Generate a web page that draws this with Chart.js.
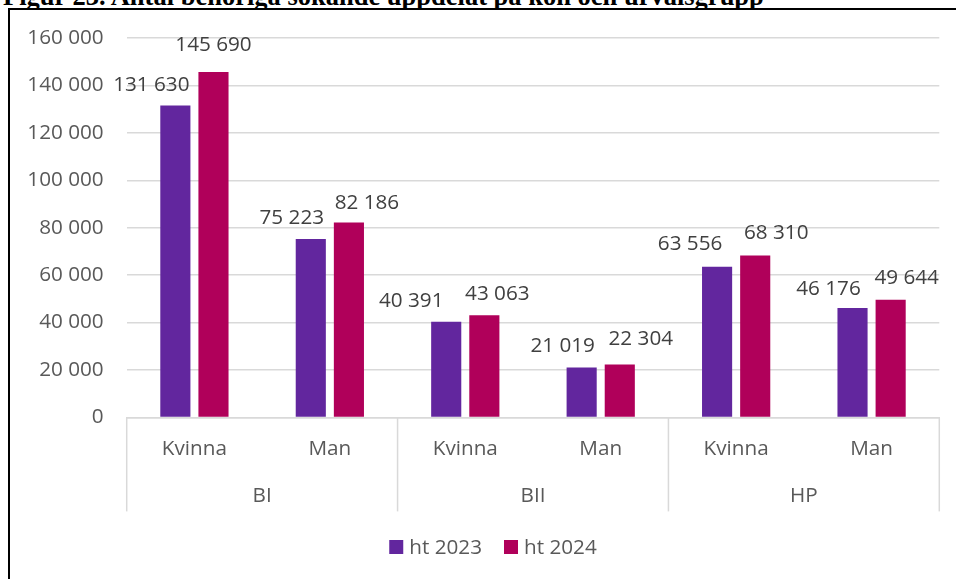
<!DOCTYPE html>
<html lang="sv">
<head>
<meta charset="UTF-8">
<title>Figur 23</title>
<script src="https://cdn.jsdelivr.net/npm/chart.js@4.4.1/dist/chart.umd.min.js"></script>
<style>
    body {
        margin: 0;
        background: #fff;
        overflow: hidden;
    }

    #title {
        position: absolute;
        left: 3px;
        top: -17px;
        font: bold 26.5px "Liberation Serif", serif;
        line-height: 26px;
        white-space: nowrap;
        color: #000;
    }

    #frame {
        position: absolute;
        left: 8px;
        top: 8px;
        width: 1000px;
        height: 700px;
        border-left: 2px solid #000;
        border-top: 2px solid #000;
        background: #fff;
    }

    #wrap {
        position: absolute;
        left: 0;
        top: 0;
        width: 956px;
        height: 579px;
    }
</style>
</head>
<body>
<div id="title">Figur 23. Antal behöriga sökande uppdelat på kön och urvalsgrupp</div>
<div id="frame"></div>
<div id="wrap"><canvas id="chart"></canvas></div>

<script>
    // data
    const groups = ['BI', 'BII', 'HP'];
    const categories = ['Kvinna', 'Man', 'Kvinna', 'Man', 'Kvinna', 'Man'];
    const seriesNames = ['ht 2023', 'ht 2024'];
    const ht2023 = [131630, 75223, 40391, 21019, 63556, 46176];
    const ht2024 = [145690, 82186, 43063, 22304, 68310, 49644];
    const yMin = 0, yMax = 160000, yStep = 20000;

    // label nudges (dx, dy above bar top), like the hand placed labels in Excel
    const nudge2023 = [[-24, 20], [-19, 21], [-35, 21], [-19, 21], [-27, 23], [-24, 19]];
    const nudge2024 = [[0, 27], [18, 20], [13, 21], [21, 25], [21, 22], [16, 22]];

    const purple = '#62269e';
    const pink = '#b0005a';
    const axisText = '#595959';
    const labelText = '#404040';
    const gridColor = '#d9d9d9';
    const font = { family: '"Open Sans", sans-serif', size: 20.7 };

    function fmt(v) {
        return String(v).replace(/\B(?=(\d{3})+(?!\d))/g, ' ');
    }

    // value labels above bars
    const valueLabels = {
        id: 'valueLabels',
        afterDatasetsDraw(chart) {
            const ctx = chart.ctx;
            ctx.save();
            ctx.font = font.size + 'px ' + font.family;
            ctx.fillStyle = labelText;
            ctx.textAlign = 'center';
            ctx.textBaseline = 'middle';
            chart.data.datasets.forEach((ds, di) => {
                const nudges = di === 0 ? nudge2023 : nudge2024;
                chart.getDatasetMeta(di).data.forEach((bar, i) => {
                    ctx.fillText(fmt(ds.data[i]), bar.x + nudges[i][0], bar.y - nudges[i][1]);
                });
            });
            ctx.restore();
        }
    };

    // group separators below the axis + legend
    const groupLines = {
        id: 'groupLines',
        afterDraw(chart) {
            const ctx = chart.ctx;
            const x = chart.scales.x;
            const top = chart.chartArea.bottom;
            const bottom = top + 94;
            ctx.save();
            ctx.strokeStyle = gridColor;
            ctx.lineWidth = 1.5;
            for (let i = 0; i <= categories.length; i += 2) {
                const px = x.getPixelForValue(i - 0.5);
                ctx.beginPath();
                ctx.moveTo(px, top);
                ctx.lineTo(px, bottom);
                ctx.stroke();
            }

            // legend
            ctx.font = font.size + 'px ' + font.family;
            ctx.textBaseline = 'middle';
            ctx.textAlign = 'left';
            const box = 14, gapBox = 6, gapItem = 22;
            const widths = seriesNames.map(n => box + gapBox + ctx.measureText(n).width);
            const total = widths[0] + gapItem + widths[1];
            let lx = 493 - total / 2;
            const ly = 547;
            chart.data.datasets.forEach((ds, di) => {
                ctx.fillStyle = ds.backgroundColor;
                ctx.fillRect(lx, ly - box / 2, box, box);
                ctx.fillStyle = axisText;
                ctx.fillText(ds.label, lx + box + gapBox, ly + 1);
                lx += widths[di] + gapItem;
            });
            ctx.restore();
        }
    };

    new Chart(document.getElementById('chart'), {
        type: 'bar',
        data: {
            labels: categories,
            datasets: [
                { label: seriesNames[0], data: ht2023, backgroundColor: purple },
                { label: seriesNames[1], data: ht2024, backgroundColor: pink }
            ]
        },
        options: {
            responsive: true,
            maintainAspectRatio: false,
            animation: false,
            events: [],
            categoryPercentage: 0.563,
            barPercentage: 0.79,
            layout: {
                padding: { top: 38.2, right: 16.7, bottom: 63.6, left: 0 }
            },
            plugins: {
                legend: { display: false },
                tooltip: { enabled: false }
            },
            scales: {
                x: {
                    offset: true,
                    grid: { display: false },
                    border: { color: gridColor, width: 1.5 },
                    ticks: { color: axisText, font: font, padding: 11, maxRotation: 0, autoSkip: false },
                    afterFit: s => { s.height = 58; }
                },
                x2: {
                    type: 'category',
                    labels: groups,
                    position: 'bottom',
                    offset: true,
                    grid: { display: false },
                    border: { display: false },
                    ticks: { color: axisText, font: font, padding: 0, maxRotation: 0 },
                    afterFit: s => { s.height = 40; }
                },
                y: {
                    min: yMin,
                    max: yMax,
                    grid: { color: gridColor, lineWidth: 1.5, drawTicks: false },
                    border: { display: false },
                    ticks: { stepSize: yStep, color: axisText, font: font, padding: 23, callback: v => fmt(v) },
                    afterFit: s => { s.width = 126.7; }
                }
            }
        },
        plugins: [valueLabels, groupLines]
    });
</script>
</body>
</html>
